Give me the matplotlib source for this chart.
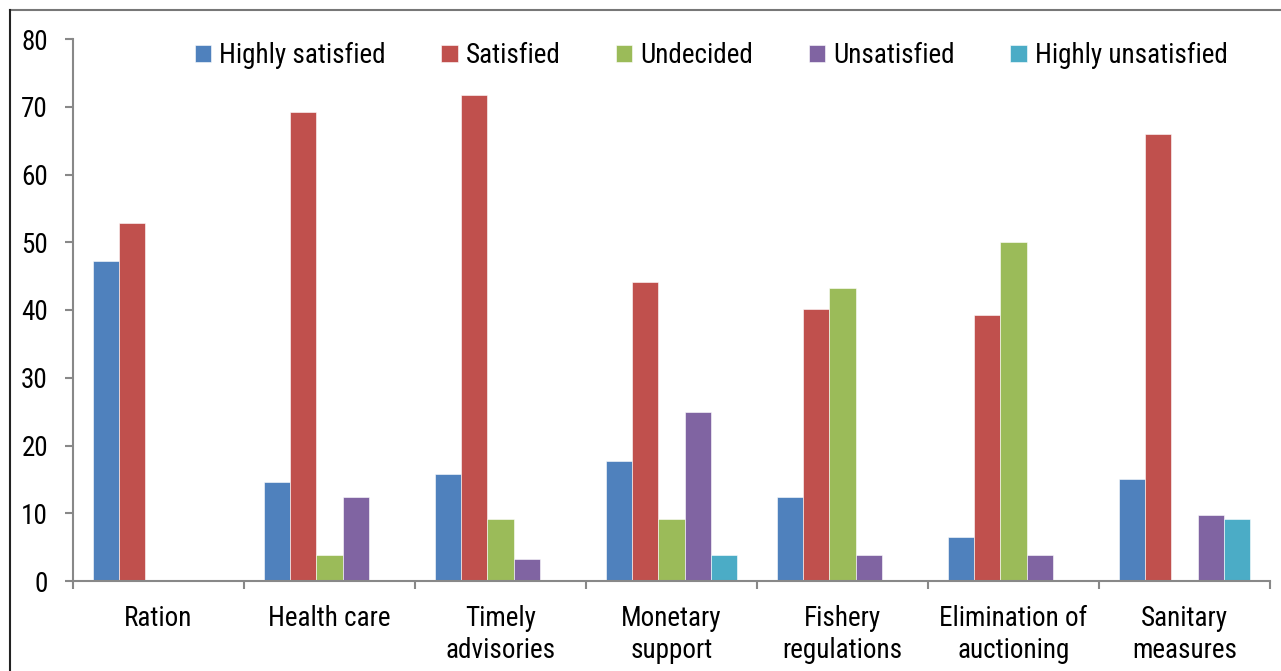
import numpy as np
import matplotlib
matplotlib.use('Agg')
import matplotlib.pyplot as plt
from matplotlib.lines import Line2D

# Datos
categorias = ['Ration', 'Health care', 'Timely\nadvisories', 'Monetary\nsupport',
              'Fishery\nregulations', 'Elimination of\nauctioning', 'Sanitary\nmeasures']
series = ['Highly satisfied', 'Satisfied', 'Undecided', 'Unsatisfied', 'Highly unsatisfied']
highly_satisfied = [47.2, 14.6, 15.8, 17.7, 12.4, 6.5, 15.1]
satisfied = [52.8, 69.2, 71.7, 44.1, 40.1, 39.3, 66.0]
undecided = [0, 3.8, 9.1, 9.1, 43.2, 50.0, 0]
unsatisfied = [0, 12.4, 3.2, 24.9, 3.8, 3.8, 9.7]
highly_unsatisfied = [0, 0, 0, 3.8, 0, 0, 9.1]
colores = ['#4F81BD', '#C0504D', '#9BBB59', '#8064A2', '#4BACC6']

plt.rcParams['font.family'] = ['Roboto Condensed', 'Roboto', 'DejaVu Sans']
fs = 19.5

fig = plt.figure(figsize=(12.81, 6.71), dpi=100)
ax = fig.add_axes([73 / 1281, 1 - 581 / 671, (1270 - 73) / 1281, (581 - 39) / 671])

valores = [highly_satisfied, satisfied, undecided, unsatisfied, highly_unsatisfied]
x = np.arange(len(categorias))
ancho = 0.154
for i, (vals, col, nom) in enumerate(zip(valores, colores, series)):
    ax.bar(x + (i - 2) * ancho, vals, ancho, color=col, label=nom,
           edgecolor='white', linewidth=0.4)

ax.set_xlim(-0.5, len(categorias) - 0.5)
ax.set_ylim(0, 80)
ax.set_yticks(np.arange(0, 81, 10))
ax.set_xticks(np.arange(len(categorias) + 1) - 0.5)
ax.set_xticklabels([])
ax.set_xticks(x, minor=True)
ax.set_xticklabels(categorias, minor=True, fontsize=fs, linespacing=1.25)
ax.tick_params(axis='x', which='minor', length=0, pad=17)
ax.tick_params(axis='x', which='major', length=6, width=1.5, color='#888888', direction='out')
ax.tick_params(axis='y', length=6, width=1.5, color='#888888', labelsize=fs, pad=12)

for s in ['top', 'right']:
    ax.spines[s].set_visible(False)
for s in ['left', 'bottom']:
    ax.spines[s].set_color('#888888')
    ax.spines[s].set_linewidth(1.5)

leg = ax.legend(loc='upper left', bbox_to_anchor=(184 / 1281, 1 - 31 / 671),
                bbox_transform=fig.transFigure, ncol=5, frameon=False,
                fontsize=fs, handlelength=0.6, handleheight=0.6,
                handletextpad=0.3, columnspacing=2.05, borderaxespad=0)

# Marco de la figura
fig.add_artist(Line2D([10 / 1281, 1], [1 - 10 / 671, 1 - 10 / 671],
                      transform=fig.transFigure, color='#777777', linewidth=1.5))
fig.add_artist(Line2D([10 / 1281, 10 / 1281], [0, 1 - 10 / 671],
                      transform=fig.transFigure, color='#222222', linewidth=1.5))

fig.savefig('out.png', dpi=100)
